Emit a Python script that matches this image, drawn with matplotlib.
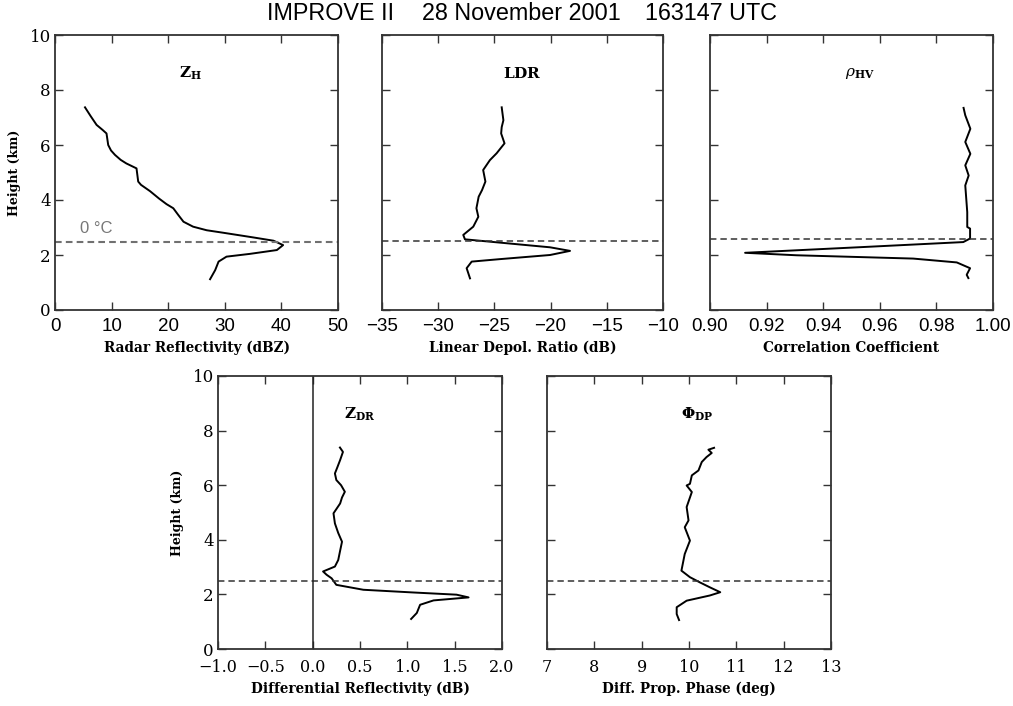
import matplotlib
matplotlib.use("Agg")
import matplotlib.pyplot as plt

plt.rcParams['mathtext.fontset'] = 'dejavuserif'
plt.rcParams['font.family'] = 'DejaVu Serif'

# ---------------- data (height in km) ----------------
zh_dbz = [5.3, 6.3, 7.35, 8.4, 9.1, 9.4, 9.9, 10.6, 11.6, 12.6, 14.4, 14.7, 15.2, 16.8,
          18.4, 19.7, 20.9, 21.8, 22.7, 24.4, 26.8, 29.7, 35.0, 38.6, 40.3, 39.2, 34.4,
          30.3, 28.9, 28.3, 27.4]
zh_h = [7.37, 7.05, 6.73, 6.55, 6.42, 6.0, 5.8, 5.64, 5.46, 5.33, 5.15, 4.67, 4.55, 4.32,
        4.05, 3.85, 3.70, 3.45, 3.21, 3.03, 2.90, 2.81, 2.64, 2.52, 2.36, 2.18, 2.04,
        1.94, 1.76, 1.45, 1.12]

ldr_db = [-24.35, -24.2, -24.35, -24.4, -24.1, -24.8, -25.4, -26.0, -25.8, -26.1, -26.4,
          -26.6, -26.43, -26.88, -27.77, -27.62, -24.5, -20.05, -18.27, -20.05, -24.5,
          -27.02, -27.47, -27.17]
ldr_h = [7.37, 6.9, 6.65, 6.42, 6.06, 5.7, 5.45, 5.09, 4.67, 4.36, 4.12, 3.7, 3.39, 3.03,
         2.73, 2.57, 2.45, 2.28, 2.15, 2.0, 1.85, 1.76, 1.52, 1.15]

rho_hv = [0.9896, 0.9902, 0.9920, 0.9902, 0.9920, 0.9902, 0.9914, 0.9902, 0.9909, 0.9909,
          0.9919, 0.9919, 0.9895, 0.9542, 0.9124, 0.9306, 0.9718, 0.9872, 0.9919, 0.9907,
          0.9913]
rho_h = [7.35, 7.08, 6.59, 6.11, 5.68, 5.26, 4.89, 4.53, 3.56, 3.02, 2.96, 2.60, 2.47,
         2.29, 2.08, 1.99, 1.87, 1.73, 1.52, 1.28, 1.16]

zdr_db = [0.288, 0.32, 0.29, 0.26, 0.235, 0.25, 0.30, 0.34, 0.31, 0.29, 0.22, 0.235, 0.27,
          0.31, 0.29, 0.27, 0.235, 0.11, 0.147, 0.2, 0.25, 0.535, 1.065, 1.52, 1.647, 1.277,
          1.135, 1.1, 1.04]
zdr_h = [7.38, 7.22, 6.92, 6.65, 6.43, 6.19, 6.0, 5.76, 5.55, 5.33, 4.97, 4.60, 4.25, 3.93,
         3.6, 3.26, 3.02, 2.84, 2.72, 2.59, 2.35, 2.17, 2.07, 1.99, 1.89, 1.78, 1.62, 1.32,
         1.10]

phi_deg = [10.53, 10.41, 10.48, 10.37, 10.27, 10.20, 10.06, 10.02, 9.95, 10.06, 9.95, 9.99,
           9.91, 10.02, 9.91, 9.84, 10.02, 10.23, 10.44, 10.66, 10.44, 9.95, 9.74, 9.74, 9.79]
phi_h = [7.37, 7.30, 7.18, 7.03, 6.85, 6.54, 6.36, 6.05, 5.99, 5.75, 5.20, 4.71,
         4.46, 3.97, 3.48, 2.87, 2.63, 2.44, 2.26, 2.08, 1.96, 1.77, 1.53, 1.28, 1.06]

melt_h = [2.47, 2.52, 2.58, 2.5, 2.5]

zh_ticks = [0, 10, 20, 30, 40, 50]
ldr_ticks = [-35, -30, -25, -20, -15, -10]
rho_ticks = [0.90, 0.92, 0.94, 0.96, 0.98, 1.00]
zdr_ticks = [-1.0, -0.5, 0.0, 0.5, 1.0, 1.5, 2.0]
phi_ticks = [7, 8, 9, 10, 11, 12, 13]
h_ticks = [0, 2, 4, 6, 8, 10]

zh_ticklabels = ['0', '10', '20', '30', '40', '50']
ldr_ticklabels = ['\u221235', '\u221230', '\u221225', '\u221220', '\u221215', '\u221210']
rho_ticklabels = ['0.90', '0.92', '0.94', '0.96', '0.98', '1.00']
zdr_ticklabels = ['\u22121.0', '\u22120.5', '0.0', '0.5', '1.0', '1.5', '2.0']
phi_ticklabels = ['7', '8', '9', '10', '11', '12', '13']

W, H = 1013, 706
fig = plt.figure(figsize=(W / 100, H / 100), dpi=100)


def rect(l, t, r, b):
    return [l / W, 1 - b / H, (r - l) / W, (b - t) / H]


panels = [
    dict(rect=rect(55, 35, 338, 310), x=zh_dbz, y=zh_h, xlim=(0, 50), ticks=zh_ticks,
         tl=zh_ticklabels, xlabel='Radar Reflectivity (dBZ)', title=r'$\mathbf{Z}_{\mathbf{H}}$',
         tx=0.48, ylab=True, sans=True, mh=melt_h[0]),
    dict(rect=rect(382, 35, 663, 310), x=ldr_db, y=ldr_h, xlim=(-35, -10), ticks=ldr_ticks,
         tl=ldr_ticklabels, xlabel='Linear Depol. Ratio (dB)', title=r'$\mathbf{LDR}$',
         tx=0.50, ylab=False, sans=True, mh=melt_h[1]),
    dict(rect=rect(710, 35, 993, 310), x=rho_hv, y=rho_h, xlim=(0.90, 1.00), ticks=rho_ticks,
         tl=rho_ticklabels, xlabel='Correlation Coefficient', title=r'$\rho_{\mathbf{HV}}$',
         tx=0.53, ylab=False, sans=True, mh=melt_h[2]),
    dict(rect=rect(218, 376, 502, 649), x=zdr_db, y=zdr_h, xlim=(-1.0, 2.0), ticks=zdr_ticks,
         tl=zdr_ticklabels, xlabel='Differential Reflectivity (dB)', title=r'$\mathbf{Z}_{\mathbf{DR}}$',
         tx=0.50, ylab=True, sans=False, mh=melt_h[3]),
    dict(rect=rect(547, 376, 831, 649), x=phi_deg, y=phi_h, xlim=(7, 13), ticks=phi_ticks,
         tl=phi_ticklabels, xlabel='Diff. Prop. Phase (deg)', title=r'$\mathbf{\Phi}_{\mathbf{DP}}$',
         tx=0.53, ylab=False, sans=False, mh=melt_h[4]),
]

axes = []
for i, p in enumerate(panels):
    ax = fig.add_axes(p['rect'])
    axes.append(ax)
    ax.plot(p['x'], p['y'], color='black', lw=1.4, solid_joinstyle='round')
    if i == 0:
        ax.axhline(p['mh'], color='#707070', lw=1.5, ls=(0, (3.2, 2.0)))
    else:
        ax.axhline(p['mh'], color='#333333', lw=1.1, ls=(0, (4.2, 2.6)))
    ax.set_xlim(*p['xlim'])
    ax.set_ylim(0, 10)
    ax.set_xticks(p['ticks'])
    ax.set_yticks(h_ticks)
    tfont = dict(family='Liberation Sans', size=13.5) if p['sans'] else dict(family='DejaVu Serif', size=11.5)
    ax.set_xticklabels(p['tl'], fontdict=tfont)
    if p['ylab']:
        ax.set_yticklabels([str(v) for v in h_ticks], fontdict=dict(family='DejaVu Serif', size=12))
        ax.set_ylabel('Height (km)', fontsize=9, fontweight='bold', labelpad=6)
    else:
        ax.set_yticklabels([])
    ax.set_xlabel(p['xlabel'], fontsize=9.8, fontweight='bold', labelpad=4)
    ax.tick_params(direction='in', top=True, right=True, length=6, width=1.0,
                   color='#333333')
    ax.tick_params(axis='x', pad=6 if p['sans'] else 7.5)
    ax.tick_params(axis='y', pad=3)
    for s in ax.spines.values():
        s.set_linewidth(1.3)
        s.set_color('#333333')
    ax.text(p['tx'], 0.86, p['title'], transform=ax.transAxes, ha='center', va='center',
            fontsize=11)

# 0 C annotation
axes[0].text(4.4, 2.95, '0 \u00b0C', family='Liberation Sans', fontsize=12, color='#777777',
             ha='left', va='center')
# zero line in ZDR
axes[3].axvline(0.0, color='#222222', lw=1.1)

# title
fig.text(267 / W, 1 - 14 / H, 'IMPROVE II', family='Liberation Sans', fontsize=16.8,
         ha='left', va='center')
fig.text(422 / W, 1 - 14 / H, '28 November 2001', family='Liberation Sans', fontsize=16.8,
         ha='left', va='center')
fig.text(777 / W, 1 - 14 / H, '163147 UTC', family='Liberation Sans', fontsize=16.8,
         ha='right', va='center')

fig.savefig('out.png', dpi=100)
